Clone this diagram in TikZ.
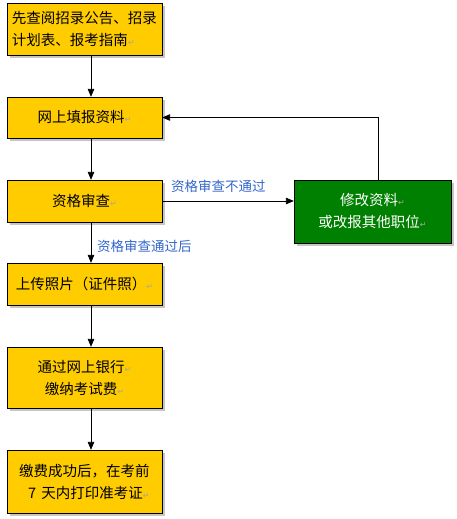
\documentclass[tikz,border=0pt]{standalone}
\usepackage{fontspec}
\setmainfont{Noto Sans CJK SC}
\newfontfamily\symfont{DejaVu Sans}
\usepackage{tikz}
\usetikzlibrary{arrows,shadows,calc}

\definecolor{boxyellow}{HTML}{FFCC00}
\definecolor{boxgreen}{HTML}{008000}
\definecolor{labelblue}{HTML}{3366CC}
\newcommand{\pmark}{{\symfont\fontsize{8}{8}\selectfont\color{gray!70}↵}}

\tikzset{
  stepbox/.style={draw=black, fill=boxyellow, minimum width=155pt, inner sep=2pt,
    align=center, font=\fontsize{14.5}{22}\selectfont,
    drop shadow={shadow xshift=2.5pt, shadow yshift=-2.5pt, fill=gray!45, opacity=1}},
  fixbox/.style={stepbox, fill=boxgreen, text=white, minimum width=157pt},
  flow/.style={-triangle 45, thick},
  note/.style={text=labelblue, font=\fontsize{13.5}{15}\selectfont, inner sep=0pt}
}

\begin{document}
\begin{tikzpicture}[x=1pt,y=-1pt]
  \useasboundingbox (0,0) rectangle (457,519);

  %% steps
  \node[stepbox, minimum height=52pt, align=left] (read) at (84.5,29.5)
    {先查阅招录公告、招录\\计划表、报考指南\pmark};
  \node[stepbox, minimum height=41pt] (fill) at (84.5,117.5) {网上填报资料\pmark};
  \node[stepbox, minimum height=42pt] (check) at (84.5,201) {资格审查\pmark};
  \node[fixbox, minimum height=63pt] (fix) at (372.5,211.5)
    {修改资料\pmark\\或改报其他职位\pmark};
  \node[stepbox, minimum height=42pt] (photo) at (84.5,284) {上传照片（证件照）\pmark};
  \node[stepbox, minimum height=61pt] (pay) at (84.5,377.5)
    {通过网上银行\pmark\\缴纳考试费\pmark};
  \node[stepbox, minimum height=63pt] (print) at (84.5,481.5)
    {缴费成功后，在考前\\\hspace{0.6em}7\hspace{0.35em}天内打印准考证\pmark};

  %% main line
  \draw[flow] ([xshift=6.5pt]read.south) -- ([xshift=6.5pt]fill.north);
  \draw[flow] ([xshift=6.5pt]fill.south) -- ([xshift=6.5pt]check.north);
  \draw[flow] ([xshift=6.5pt]check.south) -- ([xshift=6.5pt]photo.north);
  \draw[flow] ([xshift=6.5pt]photo.south) -- ([xshift=6.5pt]pay.north);
  \draw[flow] ([xshift=6.5pt]pay.south) -- ([xshift=6.5pt]print.north);

  %% failed check and back
  \draw[flow] (check.east) -- (check.east -| fix.west);
  \draw[flow] ([xshift=6pt]fix.north) |- (fill.east);

  %% labels
  \node[note, anchor=west] (nopass) at (171,186) {资格审查不通过};
  \node[note, anchor=west] (pass) at (97,246) {资格审查通过后};
\end{tikzpicture}
\end{document}
